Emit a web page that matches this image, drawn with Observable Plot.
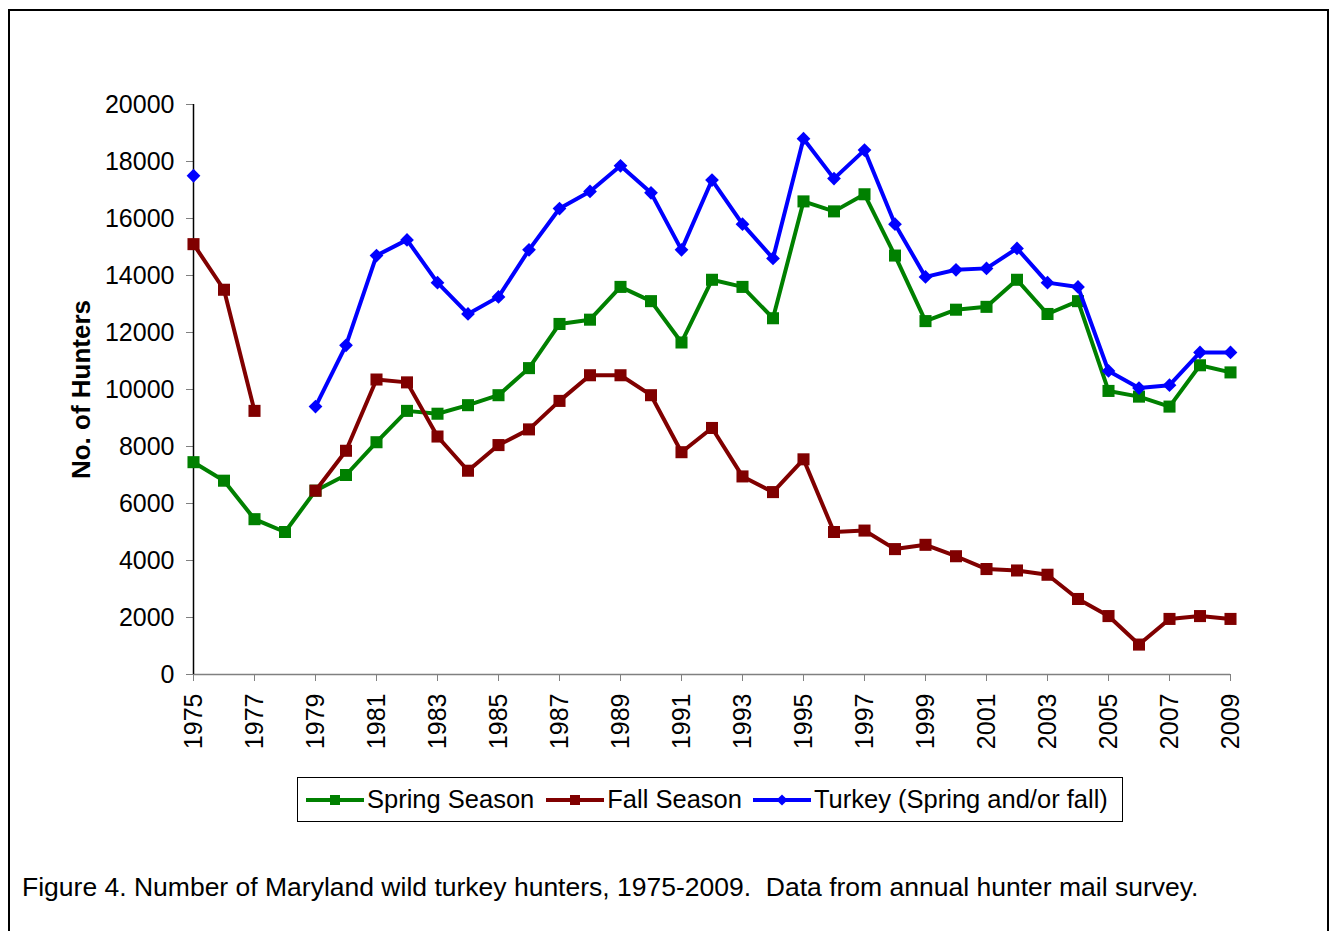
<!DOCTYPE html>
<html>
<head>
<meta charset="utf-8">
<script src="https://cdn.jsdelivr.net/npm/d3@7"></script>
<script src="https://cdn.jsdelivr.net/npm/@observablehq/plot@0.6"></script>
<style>
  html, body { margin: 0; padding: 0; background: #fff; }
  #wrap { position: relative; width: 1332px; height: 931px; overflow: hidden; font-family: "Liberation Sans", Arial, sans-serif; }
  #frame { position: absolute; left: 8px; top: 9px; width: 1317px; height: 960px; border: 2px solid #000; box-sizing: content-box; }
  #chart { position: absolute; left: 0; top: 0; }
  #legend { position: absolute; left: 297px; top: 777px; width: 824px; height: 43px; border: 1px solid #000; display: flex; align-items: center; font-size: 25.5px; color: #000; white-space: nowrap; }
  #legend .item { display: flex; align-items: center; }
  #legend svg { display: block; }
  #caption { position: absolute; left: 22px; top: 872px; font-size: 26.5px; color: #000; white-space: pre; }
</style>
</head>
<body>
<div id="wrap">
  <div id="frame"></div>
  <div id="chart"></div>
  <div id="legend"></div>
  <div id="caption"></div>
</div>
<script>
const years = d3.range(1975, 2010);
const spring = [7450, 6800, 5450, 5000, 6450, 7000, 8150, 9250, 9150, 9450, 9800, 10750, 12300, 12450, 13600, 13100, 11650, 13850, 13600, 12500, 16600, 16250, 16850, 14700, 12400, 12800, 12900, 13850, 12650, 13100, 9950, 9750, 9400, 10850, 10600];
const fall = [15100, 13500, 9250, null, 6450, 7850, 10350, 10250, 8350, 7150, 8050, 8600, 9600, 10500, 10500, 9800, 7800, 8650, 6950, 6400, 7550, 5000, 5050, 4400, 4550, 4150, 3700, 3650, 3500, 2650, 2050, 1050, 1950, 2050, 1950];
const turkey = [17500, null, null, null, 9400, 11550, 14700, 15250, 13750, 12650, 13250, 14900, 16350, 16950, 17850, 16900, 14900, 17350, 15800, 14600, 18800, 17400, 18400, 15800, 13950, 14200, 14250, 14950, 13750, 13600, 10650, 10050, 10150, 11300, 11300];
const seriesNames = ["Spring Season", "Fall Season", "Turkey (Spring and/or fall)"];
const seriesColors = ["#008000", "#800000", "#0000FF"];
const yTicks = d3.range(0, 20001, 2000);
const xTicks = d3.range(1975, 2010, 2);
const yLabel = "No. of Hunters";
const captionText = "Figure 4. Number of Maryland wild turkey hunters, 1975-2009.  Data from annual hunter mail survey.";

const diamond = d3.symbolDiamond2 || "diamond";
const seriesValues = [spring, fall, turkey];
const seriesSymbols = ["square", "square", diamond];
const seriesR = [6.8, 6.8, 6.2];

const rows = seriesValues.map(vals => years.map((yr, i) => ({year: yr, value: vals[i] == null ? NaN : vals[i]})));

const marks = [
  Plot.ruleY([0], {stroke: "#808080", strokeWidth: 1.5}),
  Plot.axisY({ticks: yTicks, tickFormat: d => String(d), tickSize: 7, tickPadding: 12, stroke: "#808080", fill: "#000", label: null, fontSize: 25}),
  Plot.axisX({ticks: xTicks, tickFormat: d => String(d), tickSize: 7, tickPadding: 12, tickRotate: -90, stroke: "#808080", fill: "#000", label: null, fontSize: 25}),
  Plot.ruleX([1975], {stroke: "#000", strokeWidth: 1.5}),
  Plot.text([yLabel], {frameAnchor: "left", textAnchor: "middle", dx: -112, rotate: -90, fontWeight: "bold", fontSize: 26, fill: "#000"})
];
rows.forEach((data, k) => {
  marks.push(Plot.line(data, {x: "year", y: "value", stroke: seriesColors[k], strokeWidth: 4, strokeLinejoin: "miter", strokeLinecap: "butt"}));
  marks.push(Plot.dot(data.filter(d => !isNaN(d.value)), {x: "year", y: "value", symbol: seriesSymbols[k], r: seriesR[k], fill: seriesColors[k], stroke: "none"}));
});

const chart = Plot.plot({
  width: 1332,
  height: 760,
  marginLeft: 193,
  marginRight: 102,
  marginTop: 104,
  marginBottom: 86,
  style: {fontFamily: "'Liberation Sans', Arial, sans-serif", fontSize: "25px", background: "transparent", color: "#000"},
  x: {domain: [1975, 2009], axis: null},
  y: {domain: [0, 20000], axis: null},
  marks
});
document.getElementById("chart").appendChild(chart);

// legend
const legend = document.getElementById("legend");
const gaps = [8, 12, 11];
seriesNames.forEach((name, k) => {
  const item = document.createElement("div");
  item.className = "item";
  item.style.marginLeft = gaps[k] + "px";
  const ns = "http://www.w3.org/2000/svg";
  const s = document.createElementNS(ns, "svg");
  s.setAttribute("width", 58); s.setAttribute("height", 20);
  const ln = document.createElementNS(ns, "line");
  ln.setAttribute("x1", 0); ln.setAttribute("x2", 58); ln.setAttribute("y1", 10); ln.setAttribute("y2", 10);
  ln.setAttribute("stroke", seriesColors[k]); ln.setAttribute("stroke-width", 4);
  s.appendChild(ln);
  const p = document.createElementNS(ns, "path");
  const symType = k === 2 ? (d3.symbolDiamond2 || d3.symbolDiamond) : d3.symbolSquare;
  p.setAttribute("d", d3.symbol(symType, k === 2 ? 80 : 100)());
  p.setAttribute("transform", "translate(29,10)");
  p.setAttribute("fill", seriesColors[k]);
  s.appendChild(p);
  item.appendChild(s);
  const t = document.createElement("span");
  t.textContent = name;
  t.style.marginLeft = "3px";
  item.appendChild(t);
  legend.appendChild(item);
});
document.getElementById("caption").textContent = captionText;
</script>
</body>
</html>
